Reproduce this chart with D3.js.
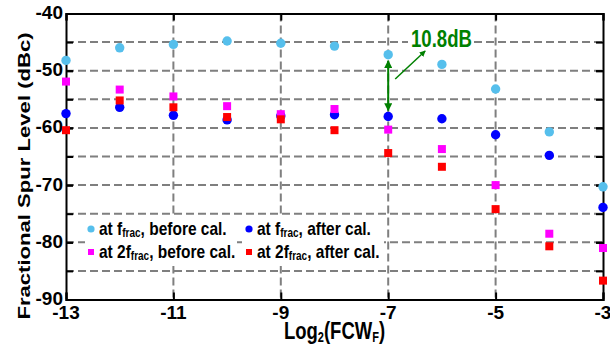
<!DOCTYPE html>
<html>
<head>
<meta charset="utf-8">
<script src="https://cdn.jsdelivr.net/npm/d3@7"></script>
<style>
  body { margin: 0; background: #fff; }
  text { font-family: "Liberation Sans", Arial, sans-serif; font-weight: bold; }
</style>
</head>
<body>
<div id="chart"></div>
<script>
// x values: log2 of the fractional FCW
var fcwLog = [-13, -12, -11, -10, -9, -8, -7, -6, -5, -4, -3];

// spur levels (dBc)
var fracBefore = [-48.2, -46.0, -45.4, -44.8, -45.2, -45.7, -47.2, -48.9, -53.2, -60.7, -70.3];
var fracAfter = [-57.5, -56.4, -57.8, -58.6, -57.9, -57.7, -58.0, -58.4, -61.2, -64.8, -73.9];
var frac2Before = [-51.9, -53.3, -54.5, -56.2, -57.6, -56.7, -60.3, -63.7, -70.0, -78.5, -81.0];
var frac2After = [-60.4, -55.2, -56.4, -58.1, -58.5, -60.4, -64.4, -66.8, -74.2, -80.7, -86.7];

// ticks
var xTickVals = [-13, -11, -9, -7, -5, -3];
var yTickVals = [-90, -80, -70, -60, -50, -40];
var yGridVals = [-85, -80, -75, -70, -65, -60, -55, -50, -45];

// the annotated gap at log2 = -7
var gapX = -7;
var gapLabel = "10.8dB";

var width = 610;
var height = 354;

// plot box (not named top/left: those clash with window globals)
var boxL = 66, boxR = 603, boxT = 13.5, boxB = 299.5;

var svg = d3.select("#chart")
    .append("svg")
    .attr("width", width)
    .attr("height", height);

var xScale = d3.scaleLinear().domain([-13, -3]).range([boxL, boxR]);
var yScale = d3.scaleLinear().domain([-90, -40]).range([boxB, boxT]);

// dashed grid
var gridColor = "#7f7f7f";
svg.append("g").selectAll("line")
    .data(yGridVals)
    .enter()
    .append("line")
    .attr("x1", boxL)
    .attr("x2", boxR)
    .attr("y1", function(d) { return yScale(d); })
    .attr("y2", function(d) { return yScale(d); })
    .attr("stroke", gridColor)
    .attr("stroke-width", 2)
    .attr("stroke-dasharray", "8,4");

svg.append("g").selectAll("line")
    .data(xTickVals.slice(1, -1))
    .enter()
    .append("line")
    .attr("x1", function(d) { return xScale(d); })
    .attr("x2", function(d) { return xScale(d); })
    .attr("y1", boxT)
    .attr("y2", boxB)
    .attr("stroke", gridColor)
    .attr("stroke-width", 2)
    .attr("stroke-dasharray", "8,4");

// legend boxes hide the grid behind them
svg.append("rect").attr("x", 85).attr("y", 216).attr("width", 152).attr("height", 50).attr("fill", "#fff");
svg.append("rect").attr("x", 246).attr("y", 216).attr("width", 138).attr("height", 50).attr("fill", "#fff");

// axes: ticks point inward, labels outside
var allY = yGridVals.concat(yTickVals);
var axisLeft = d3.axisLeft(yScale).tickValues(allY).tickSize(-7).tickFormat("");
var axisRight = d3.axisRight(yScale).tickValues(allY).tickSize(-7).tickFormat("");
var axisBottom = d3.axisBottom(xScale).tickValues(xTickVals).tickSize(-7).tickFormat("");
var axisTop = d3.axisTop(xScale).tickValues(xTickVals).tickSize(-7).tickFormat("");

function styleAxis(g) {
    g.select(".domain").attr("stroke", "#000").attr("stroke-width", 2);
    g.selectAll(".tick line").attr("stroke", "#000").attr("stroke-width", 2);
}

svg.append("g").attr("transform", "translate(" + boxL + ",0)").call(axisLeft).call(styleAxis);
svg.append("g").attr("transform", "translate(" + boxR + ",0)").call(axisRight).call(styleAxis);
svg.append("g").attr("transform", "translate(0," + boxB + ")").call(axisBottom).call(styleAxis);
svg.append("g").attr("transform", "translate(0," + boxT + ")").call(axisTop).call(styleAxis);

// tick labels
svg.append("g").selectAll("text")
    .data(yTickVals)
    .enter()
    .append("text")
    .attr("x", boxL - 3)
    .attr("y", function(d) { return yScale(d) + 5.5; })
    .attr("text-anchor", "end")
    .attr("font-size", 19)
    .text(function(d) { return d; });

svg.append("g").selectAll("text")
    .data(xTickVals)
    .enter()
    .append("text")
    .attr("x", function(d) { return xScale(d); })
    .attr("y", boxB + 19)
    .attr("text-anchor", "middle")
    .attr("font-size", 19)
    .text(function(d) { return d; });

// axis titles (text in the source is tall and narrow)
svg.append("text")
    .attr("transform", "translate(30,176) scale(1,1.3) rotate(-90)")
    .attr("text-anchor", "middle")
    .attr("font-size", 17)
    .text("Fractional Spur Level (dBc)");

var xTitle = svg.append("text")
    .attr("transform", "translate(" + ((boxL + boxR) / 2) + ",339) scale(1,1.27)")
    .attr("text-anchor", "middle")
    .attr("font-size", 18.5);
xTitle.append("tspan").text("Log");
xTitle.append("tspan").attr("font-size", 11).attr("dy", 2).text("2");
xTitle.append("tspan").attr("dy", -2).text("(FCW");
xTitle.append("tspan").attr("font-size", 11).attr("dy", 2).text("F");
xTitle.append("tspan").attr("dy", -2).text(")");

// series
var series = [
    { vals: fracBefore, color: "#56bfec", shape: "circle", harm: "", when: "before cal." },
    { vals: fracAfter, color: "#0000ff", shape: "circle", harm: "", when: "after cal." },
    { vals: frac2Before, color: "#ff00ff", shape: "square", harm: "2", when: "before cal." },
    { vals: frac2After, color: "#ff0000", shape: "square", harm: "2", when: "after cal." }
];

series.forEach(function(s) {
    var pts = svg.append("g").selectAll(".pt")
        .data(s.vals)
        .enter();
    if (s.shape === "circle") {
        pts.append("circle")
            .attr("cx", function(d, i) { return xScale(fcwLog[i]); })
            .attr("cy", function(d) { return yScale(d); })
            .attr("r", 4.7)
            .attr("fill", s.color);
    }
    else {
        pts.append("rect")
            .attr("x", function(d, i) { return xScale(fcwLog[i]) - 4; })
            .attr("y", function(d) { return yScale(d) - 4; })
            .attr("width", 8)
            .attr("height", 8)
            .attr("fill", s.color);
    }
});

// legend, 2 columns x 2 rows
var legendPos = [[91, 229], [249, 229], [91, 252], [249, 252]];
series.forEach(function(s, i) {
    var px = legendPos[i][0], py = legendPos[i][1];
    if (s.shape === "circle") {
        svg.append("circle").attr("cx", px).attr("cy", py).attr("r", 3.6).attr("fill", s.color);
    }
    else {
        svg.append("rect").attr("x", px - 3).attr("y", py - 3).attr("width", 6).attr("height", 6).attr("fill", s.color);
    }
    var t = svg.append("text")
        .attr("transform", "translate(" + (px + 8) + "," + (py + 6) + ") scale(1,1.2)")
        .attr("font-size", 15.5);
    t.append("tspan").text("at " + s.harm + "f");
    t.append("tspan").attr("font-size", 10).attr("dy", 2).text("frac");
    t.append("tspan").attr("dy", -2).text(", " + s.when);
});

// annotation: double arrow between before/after at log2 = -7
var green = "#008000";
var defs = svg.append("defs");
defs.append("marker")
    .attr("id", "head")
    .attr("viewBox", "0 0 10 10")
    .attr("refX", 9)
    .attr("refY", 5)
    .attr("markerWidth", 4)
    .attr("markerHeight", 4)
    .attr("orient", "auto-start-reverse")
    .append("path")
    .attr("d", "M0,0 L10,5 L0,10 Z")
    .attr("fill", green);

var gi = fcwLog.indexOf(gapX);
svg.append("line")
    .attr("x1", xScale(gapX))
    .attr("x2", xScale(gapX))
    .attr("y1", yScale(fracBefore[gi]) + 6)
    .attr("y2", yScale(fracAfter[gi]) - 6)
    .attr("stroke", green)
    .attr("stroke-width", 2)
    .attr("marker-start", "url(#head)")
    .attr("marker-end", "url(#head)");

svg.append("line")
    .attr("x1", xScale(gapX) + 7)
    .attr("y1", 79)
    .attr("x2", xScale(gapX) + 37)
    .attr("y2", 51)
    .attr("stroke", green)
    .attr("stroke-width", 1.5)
    .attr("marker-end", "url(#head)");

// label sits on a white patch over the grid line
svg.append("rect").attr("x", 408).attr("y", 28).attr("width", 66).attr("height", 21).attr("fill", "#fff");
svg.append("text")
    .attr("transform", "translate(411,46.5) scale(1,1.25)")
    .attr("font-size", 18.6)
    .attr("fill", green)
    .text(gapLabel);
</script>
</body>
</html>
